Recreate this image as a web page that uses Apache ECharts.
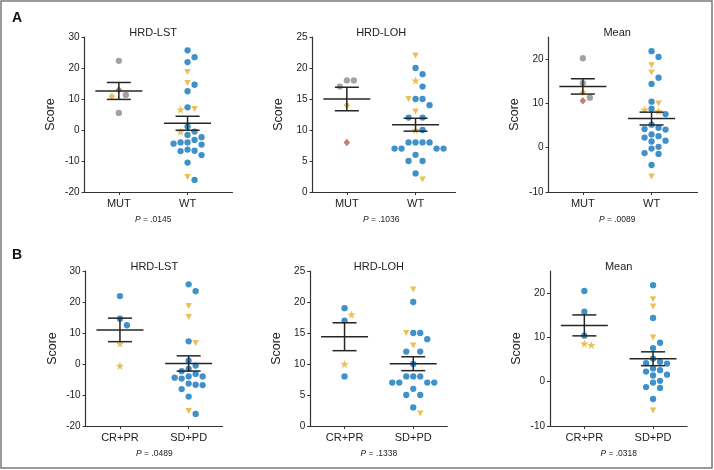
<!DOCTYPE html>
<html><head><meta charset="utf-8">
<script src="https://cdn.jsdelivr.net/npm/echarts@6/dist/echarts.min.js"></script>
<style>html,body{margin:0;padding:0;background:#fff}#c{width:714px;height:470px}</style>
</head><body><div id="c"></div>
<script>
// ---------------- DATA ----------------
const groupsA = ['MUT', 'WT'];
const groupsB = ['CR+PR', 'SD+PD'];
// marker codes: c = blue circle, g = gray circle, t = gold down-triangle,
// s = gold star, d = gold diamond, r = red diamond
const lstMutVal  = [22.3, 13.0, 11.3, 10.9, 5.5];
const lstMutType = ['g', 'r', 'g', 'd', 'g'];
const lstWtVal  = [25.7, 23.5, 21.9, 18.7, 15.2, 14.6, 12.5, 7.3, 6.8, 6.6, 1.1, -0.5, -0.6, -1.6, -2.3, -3.2, -4.0, -4.4, -4.7, -4.0, -6.3, -6.7, -6.8, -8.1, -10.5, -15.2, -16.1];
const lstWtType = ['c','c','c','t','t','c','c','c','t','s','c','c','s','c','c','c','c','c','c','c','c','c','c','c','c','t','c'];
const lohMutVal  = [18, 18, 17, 14, 8];
const lohMutType = ['g', 'g', 'g', 'd', 'r'];
const lohWtVal  = [22, 20, 19, 18, 17, 15, 15, 15, 14, 13, 12, 12, 10, 10, 8, 8, 8, 8, 7, 7, 7, 7, 6, 5, 5, 3, 2];
const lohWtType = ['t','c','c','s','c','c','c','t','c','t','c','c','s','c','c','c','c','c','c','c','c','c','c','c','c','c','t'];
const meanMutVal  = [20.2, 14.6, 12.5, 11.3, 10.6];
const meanMutType = ['g', 'g', 'd', 'g', 'r'];
const meanWtVal  = [21.8, 20.5, 18.6, 17.0, 15.8, 14.4, 10.4, 10.0, 8.8, 8.6, 8.3, 7.6, 5.2, 4.5, 4.2, 4.1, 3.0, 2.6, 2.3, 1.6, 1.4, 0.2, -0.2, -1.2, -1.4, -3.9, -6.5];
const meanWtType = ['c','c','t','t','c','c','c','t','c','s','s','c','c','c','c','c','c','c','c','c','c','c','c','c','c','c','t'];

const lstRespVal  = [21.9, 14.6, 12.5, 6.6, -0.6];
const lstRespType = ['c', 'c', 'c', 's', 's'];
const lstNonVal  = [25.7, 23.5, 18.7, 15.2, 7.3, 6.8, 1.1, -0.5, -1.6, -2.3, -3.2, -4.0, -4.4, -4.7, -4.0, -6.3, -6.7, -6.8, -8.1, -10.5, -15.2, -16.1];
const lstNonType = ['c','c','t','t','c','t','c','c','c','c','c','c','c','c','c','c','c','c','c','c','t','c'];
const lohRespVal  = [19, 18, 17, 10, 8];
const lohRespType = ['c', 's', 'c', 's', 'c'];
const lohNonVal  = [22, 20, 15, 15, 15, 14, 13, 12, 12, 10, 8, 8, 8, 7, 7, 7, 7, 6, 5, 5, 3, 2];
const lohNonType = ['t','c','c','c','t','c','t','c','c','c','c','c','c','c','c','c','c','c','c','c','c','t'];
const meanRespVal  = [20.5, 15.8, 10.4, 8.6, 8.3];
const meanRespType = ['c', 'c', 'c', 's', 's'];
const meanNonVal  = [21.8, 18.6, 17.0, 14.4, 10.0, 8.8, 7.6, 5.2, 4.5, 4.2, 4.1, 3.0, 2.6, 2.3, 1.6, 1.4, 0.2, -0.2, -1.2, -1.4, -3.9, -6.5];
const meanNonType = ['c','t','t','c','t','c','c','c','c','c','c','c','c','c','c','c','c','c','c','c','c','t'];

const lstTicks  = [-20, -10, 0, 10, 20, 30];
const lohTicks  = [0, 5, 10, 15, 20, 25];
const meanTicks = [-10, 0, 10, 20];
const lstRange  = [-20, 30];
const lohRange  = [0, 25];
const meanRange = [-10, 25];
const pA = ['.0145', '.1036', '.0089'];
const pB = ['.0489', '.1338', '.0318'];

// ---------------- STYLE / LAYOUT ----------------
const FONT = '"Liberation Sans", Arial, Helvetica, sans-serif';
const STAR = 'path://M50,0 L61.8,35.5 L99,35.5 L69,57.5 L80.5,93 L50,71 L19.5,93 L31,57.5 L1,35.5 L38.2,35.5 Z';
const STY = {
  c: {symbol: 'circle', size: 6.3, color: '#1076bc'},
  g: {symbol: 'circle', size: 6.3, color: '#8b8b8b'},
  t: {symbol: 'triangle', size: [6.5, 6], color: '#e3b22c', rotate: 180},
  s: {symbol: STAR, size: 8.5, color: '#e3b22c'},
  d: {symbol: 'diamond', size: [6.5, 7.5], color: '#e3b22c'},
  r: {symbol: 'diamond', size: [6.5, 7.5], color: '#b65b50'}
};
const KX = 68.7;      // px per category step
const GH = 155;       // grid height
const SLOT = 7;       // beeswarm column spacing px
const DIA = 7;        // beeswarm vertical collision distance px

const panels = [
  {name:'HRD-LST', cats:groupsA, vals:[lstMutVal, lstWtVal], types:[lstMutType, lstWtType], range:lstRange, ticks:lstTicks, p:pA[0], left:84.5, top:37, width:148},
  {name:'HRD-LOH', cats:groupsA, vals:[lohMutVal, lohWtVal], types:[lohMutType, lohWtType], range:lohRange, ticks:lohTicks, p:pA[1], left:312.5, top:37, width:143},
  {name:'Mean',    cats:groupsA, vals:[meanMutVal, meanWtVal], types:[meanMutType, meanWtType], range:meanRange, ticks:meanTicks, p:pA[2], left:548.5, top:37, width:149},
  {name:'HRD-LST', cats:groupsB, vals:[lstRespVal, lstNonVal], types:[lstRespType, lstNonType], range:lstRange, ticks:lstTicks, p:pB[0], left:85.6, top:271, width:137},
  {name:'HRD-LOH', cats:groupsB, vals:[lohRespVal, lohNonVal], types:[lohRespType, lohNonType], range:lohRange, ticks:lohTicks, p:pB[1], left:310.2, top:271, width:137},
  {name:'Mean',    cats:groupsB, vals:[meanRespVal, meanNonVal], types:[meanRespType, meanNonType], range:meanRange, ticks:meanTicks, p:pB[2], left:550, top:271, width:137}
];

// column-slot beeswarm: each point takes the nearest free column (0, +1, -1, +2, ...)
function swarm(vals, pxPerUnit) {
  const order = vals.map((v, i) => i).sort((a, b) => vals[b] - vals[a]);
  const placed = [];
  const out = new Array(vals.length);
  const cands = [0];
  for (let k = 1; k <= 8; k++) { cands.push(k, -k); }
  order.forEach(i => {
    const y = vals[i] * pxPerUnit;
    for (const s of cands) {
      if (!placed.some(p => p.s === s && Math.abs(p.y - y) < DIA)) {
        placed.push({s, y}); out[i] = s * SLOT; break;
      }
    }
  });
  return out;
}
function stats(v) {
  const n = v.length, m = v.reduce((a, b) => a + b, 0) / n;
  const sd = Math.sqrt(v.reduce((a, b) => a + (b - m) * (b - m), 0) / (n - 1));
  return [m, sd / Math.sqrt(n)];
}

const grid = [], xAxis = [], yAxis = [], series = [], graphic = [];
const axisCol = '#333';
panels.forEach((P, i) => {
  const xmax = 0.5 + P.width / KX;
  grid.push({left: P.left, top: P.top, width: P.width, height: GH});
  xAxis.push({
    gridIndex: i, type: 'value', min: 0.5, max: xmax,
    axisLine: {onZero: false, lineStyle: {color: axisCol, width: 1.2}},
    axisTick: {customValues: [1, 2], length: 3, lineStyle: {color: axisCol}},
    axisLabel: {customValues: [1, 2], formatter: v => P.cats[Math.round(v) - 1], margin: 6,
                fontFamily: FONT, fontSize: 11, color: '#222'},
    splitLine: {show: false}
  });
  yAxis.push({
    gridIndex: i, type: 'value', min: P.range[0], max: P.range[1],
    name: 'Score', nameLocation: 'middle', nameGap: 27,
    nameTextStyle: {fontFamily: FONT, fontSize: 12.5, color: '#222'},
    axisLine: {show: true, onZero: false, lineStyle: {color: axisCol, width: 1.2}},
    axisTick: {show: true, customValues: P.ticks, length: 3, lineStyle: {color: axisCol}},
    axisLabel: {customValues: P.ticks, margin: 5, fontFamily: FONT, fontSize: 10, color: '#222'},
    splitLine: {show: false}
  });
  const yPx = GH / (P.range[1] - P.range[0]);
  const pts = [], summ = [];
  P.vals.forEach((vals, g) => {
    const offs = swarm(vals, yPx);
    vals.forEach((v, j) => {
      const st = STY[P.types[g][j]];
      pts.push({value: [g + 1 + offs[j] / KX, v], symbol: st.symbol, symbolSize: st.size,
                symbolRotate: st.rotate || 0, itemStyle: {color: st.color}});
    });
    const [m, se] = stats(vals);
    summ.push([g + 1, m, se]);
  });
  series.push({type: 'scatter', xAxisIndex: i, yAxisIndex: i, data: pts, z: 2, silent: true, animation: false});
  series.push({
    type: 'custom', xAxisIndex: i, yAxisIndex: i, data: summ, z: 3, silent: true, animation: false,
    encode: {x: 0, y: 1},
    renderItem: (params, api) => {
      const x = api.value(0), m = api.value(1), se = api.value(2);
      const c = api.coord([x, m]), t = api.coord([x, m + se]), b = api.coord([x, m - se]);
      const st = {stroke: '#262626', lineWidth: 1.5};
      return {type: 'group', children: [
        {type: 'line', shape: {x1: c[0] - 23.5, y1: c[1], x2: c[0] + 23.5, y2: c[1]}, style: st},
        {type: 'line', shape: {x1: c[0], y1: t[1], x2: c[0], y2: b[1]}, style: st},
        {type: 'line', shape: {x1: c[0] - 12, y1: t[1], x2: c[0] + 12, y2: t[1]}, style: st},
        {type: 'line', shape: {x1: c[0] - 12, y1: b[1], x2: c[0] + 12, y2: b[1]}, style: st}
      ]};
    }
  });
  const mid = P.left + KX * (1.5 - 0.5);
  graphic.push({type: 'text', x: mid, y: P.top - 4, style: {text: P.name, textAlign: 'center', textVerticalAlign: 'middle',
    font: '11px ' + FONT, fill: '#222'}});
  graphic.push({type: 'text', x: mid, y: P.top + GH + 28, style: {text: '{i|P} = ' + P.p, textAlign: 'center', textVerticalAlign: 'middle',
    font: '8.5px ' + FONT, fill: '#222', rich: {i: {fontStyle: 'italic', fontSize: 8.5, fontFamily: FONT, fill: '#222'}}}});
});
graphic.push({type: 'rect', shape: {x: 1, y: 1, width: 711, height: 467}, style: {fill: 'none', stroke: '#7a7a7a', lineWidth: 1.5}});
graphic.push({type: 'text', x: 17, y: 18, style: {text: 'A', textAlign: 'center', textVerticalAlign: 'middle', font: 'bold 14px ' + FONT, fill: '#111'}});
graphic.push({type: 'text', x: 17, y: 255, style: {text: 'B', textAlign: 'center', textVerticalAlign: 'middle', font: 'bold 14px ' + FONT, fill: '#111'}});

const chart = echarts.init(document.getElementById('c'), null, {renderer: 'canvas'});
chart.setOption({animation: false, backgroundColor: '#fff', grid, xAxis, yAxis, series, graphic});
</script></body></html>
